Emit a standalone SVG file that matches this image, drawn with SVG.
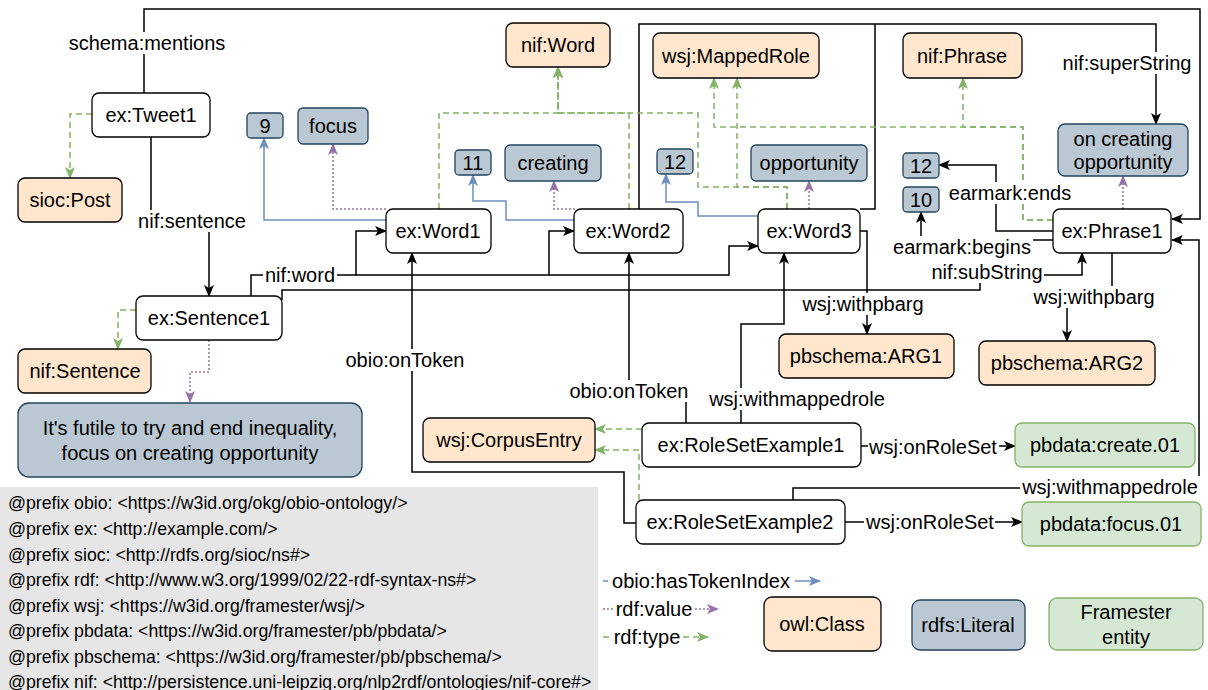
<svg xmlns="http://www.w3.org/2000/svg" width="1208" height="690" viewBox="0 0 1208 690">
<style>
.n{fill:#fff;stroke:#000;stroke-width:1.3}
.c{fill:#ffe6cc;stroke:#000;stroke-width:1.3}
.l{fill:#bac8d3;stroke:#23445d;stroke-width:1.3}
.f{fill:#d5e8d4;stroke:#82b366;stroke-width:1.3}
text{font-family:"Liberation Sans",Arial,sans-serif;font-size:20px;fill:#000}
.t{text-anchor:middle;dominant-baseline:central}
.px{font-size:17.7px}
.e{fill:none;stroke:#000;stroke-width:1.5}
.b{fill:none;stroke:#6c8ebf;stroke-width:1.5}
.p{fill:none;stroke:#9673a6;stroke-width:1.5;stroke-dasharray:2 2}
.g{fill:none;stroke:#82b366;stroke-width:1.5;stroke-dasharray:6 4}
.lb{fill:#fff}
</style>
<defs>
<marker id="ak" viewBox="0 0 12 10" refX="11" refY="5" markerWidth="12" markerHeight="10" markerUnits="userSpaceOnUse" orient="auto"><path d="M0,0 L12,5 L0,10 L3,5 Z" fill="#000"/></marker>
<marker id="ab" viewBox="0 0 12 10" refX="11" refY="5" markerWidth="12" markerHeight="10" markerUnits="userSpaceOnUse" orient="auto"><path d="M0,0 L12,5 L0,10 L3,5 Z" fill="#6c8ebf"/></marker>
<marker id="ap" viewBox="0 0 12 10" refX="11" refY="5" markerWidth="12" markerHeight="10" markerUnits="userSpaceOnUse" orient="auto"><path d="M0,0 L12,5 L0,10 L3,5 Z" fill="#9673a6"/></marker>
<marker id="ag" viewBox="0 0 12 10" refX="11" refY="5" markerWidth="12" markerHeight="10" markerUnits="userSpaceOnUse" orient="auto"><path d="M0,0 L12,5 L0,10 L3,5 Z" fill="#82b366"/></marker>
</defs>
<rect width="1208" height="690" fill="#fff"/>
<g id="prefixes">
<rect x="0" y="487" width="598" height="203" fill="#e6e6e6"/>
<text class="px" x="8" y="509">@prefix obio: &lt;https://w3id.org/okg/obio-ontology/&gt;</text>
<text class="px" x="8" y="535">@prefix ex: &lt;http://example.com/&gt;</text>
<text class="px" x="8" y="561">@prefix sioc: &lt;http://rdfs.org/sioc/ns#&gt;</text>
<text class="px" x="8" y="586">@prefix rdf: &lt;http://www.w3.org/1999/02/22-rdf-syntax-ns#&gt;</text>
<text class="px" x="8" y="612">@prefix wsj: &lt;https://w3id.org/framester/wsj/&gt;</text>
<text class="px" x="8" y="637">@prefix pbdata: &lt;https://w3id.org/framester/pb/pbdata/&gt;</text>
<text class="px" x="8" y="663">@prefix pbschema: &lt;https://w3id.org/framester/pb/pbschema/&gt;</text>
<text class="px" x="8" y="688">@prefix nif: &lt;http://persistence.uni-leipzig.org/nlp2rdf/ontologies/nif-core#&gt;</text>
</g>
<g id="connectors">
<path class="e" d="M144 93 V9 H1200 V219 H1172" marker-end="url(#ak)"/>
<path class="e" d="M639 209 V24 H1156 V124" marker-end="url(#ak)"/>
<path class="e" d="M860 209 H875 V24"/>
<path class="e" d="M151 137 V221 H209 V296" marker-end="url(#ak)"/>
<path class="e" d="M251 296 V275 H356 V231 H386" marker-end="url(#ak)"/>
<path class="e" d="M356 275 H549 V231 H574" marker-end="url(#ak)"/>
<path class="e" d="M549 275 H729 V246 H758" marker-end="url(#ak)"/>
<path class="e" d="M282 300 V290 H980 V275 H1082 V253" marker-end="url(#ak)"/>
<path class="e" d="M1053 240 H921 V212" marker-end="url(#ak)"/>
<path class="e" d="M1053 231 H996 V165 H939" marker-end="url(#ak)"/>
<path class="e" d="M636 523 H624 V472 H412 V253" marker-end="url(#ak)"/>
<path class="e" d="M686 423 V392 H629 V253" marker-end="url(#ak)"/>
<path class="e" d="M741 423 V324 H784 V253" marker-end="url(#ak)"/>
<path class="e" d="M793 500 V488 H1199 V240 H1172" marker-end="url(#ak)"/>
<path class="e" d="M860 231 H867 V334" marker-end="url(#ak)"/>
<path class="e" d="M1112 253 V297 H1067 V341" marker-end="url(#ak)"/>
<path class="e" d="M861 446 H1015" marker-end="url(#ak)"/>
<path class="e" d="M845 522 H1022" marker-end="url(#ak)"/>
<path class="b" d="M386 220 H264 V138" marker-end="url(#ab)"/>
<path class="b" d="M574 220 H506 V201 H473 V175" marker-end="url(#ab)"/>
<path class="b" d="M758 216 H698 V202 H666 V174" marker-end="url(#ab)"/>
<path class="p" d="M386 209 H333 V144" marker-end="url(#ap)"/>
<path class="p" d="M575 209 H554 V181" marker-end="url(#ap)"/>
<path class="p" d="M809 209 V181" marker-end="url(#ap)"/>
<path class="p" d="M1123 209 V176" marker-end="url(#ap)"/>
<path class="p" d="M209 340 V372 H190 V402" marker-end="url(#ap)"/>
<path class="g" d="M92 114 H70 V178" marker-end="url(#ag)"/>
<path class="g" d="M136 310 H118 V349" marker-end="url(#ag)"/>
<path class="g" d="M439 209 V113 H558 V67" marker-end="url(#ag)"/>
<path class="g" d="M629 209 V113 H558 V67" marker-end="url(#ag)"/>
<path class="g" d="M787 209 V187 H698 V113 H558 V67" marker-end="url(#ag)"/>
<path class="g" d="M787 209 V187 H737 V78" marker-end="url(#ag)"/>
<path class="g" d="M1053 220 H1023 V127 H714 V78" marker-end="url(#ag)"/>
<path class="g" d="M1053 220 H1023 V127 H963 V78" marker-end="url(#ag)"/>
<path class="g" d="M642 429 H595" marker-end="url(#ag)"/>
<path class="g" d="M639 500 V450 H595" marker-end="url(#ag)"/>
<path class="b" d="M603 581 H820" marker-end="url(#ab)"/>
<path class="p" d="M603 609 H718" marker-end="url(#ap)"/>
<path class="g" d="M603 637 H708" marker-end="url(#ag)"/>
<rect class="lb" x="66" y="32" width="162" height="22"/><text class="t" x="147" y="43">schema:mentions</text>
<rect class="lb" x="136" y="210" width="112" height="22"/><text class="t" x="192" y="221">nif:sentence</text>
<rect class="lb" x="263" y="264" width="74" height="22"/><text class="t" x="300" y="275">nif:word</text>
<rect class="lb" x="343" y="349" width="124" height="22"/><text class="t" x="405" y="360">obio:onToken</text>
<rect class="lb" x="567" y="380" width="124" height="22"/><text class="t" x="629" y="391">obio:onToken</text>
<rect class="lb" x="707" y="388" width="180" height="22"/><text class="t" x="797" y="399">wsj:withmappedrole</text>
<rect class="lb" x="1020" y="476" width="180" height="22"/><text class="t" x="1110" y="487">wsj:withmappedrole</text>
<rect class="lb" x="801" y="293" width="125" height="22"/><text class="t" x="863" y="304">wsj:withpbarg</text>
<rect class="lb" x="1032" y="286" width="125" height="22"/><text class="t" x="1094" y="297">wsj:withpbarg</text>
<rect class="lb" x="948" y="182" width="125" height="22"/><text class="t" x="1010" y="193">earmark:ends</text>
<rect class="lb" x="892" y="236" width="141" height="22"/><text class="t" x="962" y="247">earmark:begins</text>
<rect class="lb" x="930" y="261" width="114" height="22"/><text class="t" x="987" y="272">nif:subString</text>
<rect class="lb" x="1061" y="52" width="132" height="22"/><text class="t" x="1127" y="63">nif:superString</text>
<rect class="lb" x="868" y="436" width="131" height="22"/><text class="t" x="933" y="447">wsj:onRoleSet</text>
<rect class="lb" x="864" y="511" width="131" height="22"/><text class="t" x="930" y="522">wsj:onRoleSet</text>
<rect class="lb" x="608" y="570" width="187" height="22"/><text class="t" x="701" y="581">obio:hasTokenIndex</text>
<rect class="lb" x="613" y="598" width="82" height="22"/><text class="t" x="654" y="609">rdf:value</text>
<rect class="lb" x="612" y="626" width="70" height="22"/><text class="t" x="647" y="637">rdf:type</text>
</g>
<g id="tweet1"><rect class="n" x="92" y="93" width="118" height="44" rx="7"/><text class="t" x="151" y="115">ex:Tweet1</text></g>
<g id="siocPost"><rect class="c" x="18" y="178" width="104" height="44" rx="7"/><text class="t" x="70" y="200">sioc:Post</text></g>
<g id="lit9"><rect class="l" x="247" y="113" width="36" height="25" rx="4"/><text class="t" x="265" y="126">9</text></g>
<g id="litFocus"><rect class="l" x="298" y="108" width="70" height="36" rx="5"/><text class="t" x="333" y="126">focus</text></g>
<g id="nifWord"><rect class="c" x="506" y="23" width="104" height="44" rx="7"/><text class="t" x="558" y="45">nif:Word</text></g>
<g id="lit11"><rect class="l" x="455" y="150" width="36" height="25" rx="4"/><text class="t" x="473" y="163">11</text></g>
<g id="litCreating"><rect class="l" x="505" y="145" width="96" height="36" rx="5"/><text class="t" x="553" y="163">creating</text></g>
<g id="mappedRole"><rect class="c" x="653" y="33" width="166" height="45" rx="7"/><text class="t" x="736" y="56">wsj:MappedRole</text></g>
<g id="lit12a"><rect class="l" x="657" y="149" width="36" height="25" rx="4"/><text class="t" x="675" y="162">12</text></g>
<g id="litOpportunity"><rect class="l" x="751" y="145" width="116" height="36" rx="5"/><text class="t" x="809" y="163">opportunity</text></g>
<g id="nifPhrase"><rect class="c" x="903" y="33" width="119" height="45" rx="7"/><text class="t" x="962" y="56">nif:Phrase</text></g>
<g id="litPhrase"><rect class="l" x="1058" y="124" width="130" height="52" rx="7"/><text class="t" x="1123" y="139">on creating</text><text class="t" x="1123" y="162">opportunity</text></g>
<g id="lit12b"><rect class="l" x="903" y="153" width="36" height="25" rx="4"/><text class="t" x="921" y="166">12</text></g>
<g id="lit10"><rect class="l" x="903" y="187" width="36" height="25" rx="4"/><text class="t" x="921" y="200">10</text></g>
<g id="phrase1"><rect class="n" x="1053" y="209" width="118" height="44" rx="7"/><text class="t" x="1112" y="231">ex:Phrase1</text></g>
<g id="word1"><rect class="n" x="386" y="209" width="105" height="44" rx="7"/><text class="t" x="438" y="231">ex:Word1</text></g>
<g id="word2"><rect class="n" x="574" y="209" width="109" height="44" rx="7"/><text class="t" x="628" y="231">ex:Word2</text></g>
<g id="word3"><rect class="n" x="758" y="209" width="102" height="44" rx="7"/><text class="t" x="809" y="231">ex:Word3</text></g>
<g id="sentence1"><rect class="n" x="136" y="296" width="146" height="44" rx="7"/><text class="t" x="209" y="318">ex:Sentence1</text></g>
<g id="nifSentence"><rect class="c" x="18" y="349" width="133" height="44" rx="7"/><text class="t" x="85" y="371">nif:Sentence</text></g>
<g id="litSentence"><rect class="l" x="18" y="403" width="344" height="74" rx="11"/><text class="t" x="190" y="428">It's futile to try and end inequality,</text><text class="t" x="190" y="453">focus on creating opportunity</text></g>
<g id="corpusEntry"><rect class="c" x="423" y="418" width="172" height="44" rx="7"/><text class="t" x="509" y="440">wsj:CorpusEntry</text></g>
<g id="rse1"><rect class="n" x="642" y="423" width="219" height="44" rx="7"/><text class="t" x="751" y="445">ex:RoleSetExample1</text></g>
<g id="rse2"><rect class="n" x="636" y="500" width="209" height="44" rx="7"/><text class="t" x="740" y="522">ex:RoleSetExample2</text></g>
<g id="create01"><rect class="f" x="1015" y="423" width="180" height="44" rx="7"/><text class="t" x="1105" y="445">pbdata:create.01</text></g>
<g id="focus01"><rect class="f" x="1022" y="502" width="179" height="44" rx="7"/><text class="t" x="1111" y="524">pbdata:focus.01</text></g>
<g id="arg1"><rect class="c" x="779" y="334" width="175" height="44" rx="7"/><text class="t" x="866" y="356">pbschema:ARG1</text></g>
<g id="arg2"><rect class="c" x="979" y="341" width="176" height="44" rx="7"/><text class="t" x="1067" y="363">pbschema:ARG2</text></g>
<g id="legendClass"><rect class="c" x="764" y="597" width="117" height="54" rx="8"/><text class="t" x="822" y="624">owl:Class</text></g>
<g id="legendLiteral"><rect class="l" x="912" y="600" width="113" height="50" rx="8"/><text class="t" x="968" y="625">rdfs:Literal</text></g>
<g id="legendFramester"><rect class="f" x="1049" y="598" width="154" height="52" rx="8"/><text class="t" x="1126" y="612">Framester</text><text class="t" x="1126" y="637">entity</text></g>
</svg>
